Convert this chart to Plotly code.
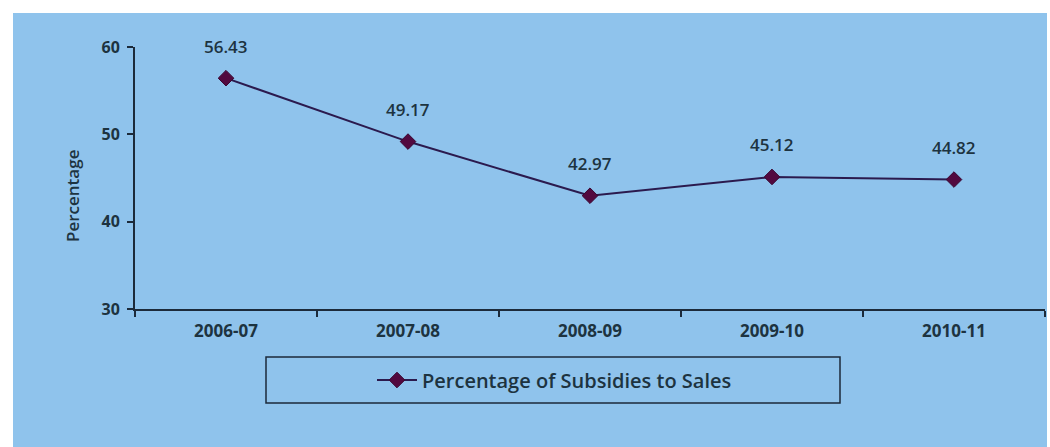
import plotly.graph_objects as go

years = ["2006-07", "2007-08", "2008-09", "2009-10", "2010-11"]
subsidy_pct = [56.43, 49.17, 42.97, 45.12, 44.82]
series_name = "Percentage of Subsidies to Sales"
y_title = "Percentage"
y_ticks = [30, 40, 50, 60]

W, H = 1050, 447
L, R, T, B = 135, 5, 47, 138
pw, ph = W - L - R, H - T - B

def px_x(p):
    return (p - L) / pw

def px_y(p):
    return (H - B - p) / ph

FONT = "Open Sans"
TXT = "#1d3340"
AXIS = "#1c2a3a"

fig = go.Figure()
fig.add_trace(go.Scatter(
    x=years, y=subsidy_pct, mode="lines+markers", name=series_name,
    line=dict(color="#2b1a4e", width=2),
    marker=dict(symbol="diamond", size=12, color="#52093f",
                line=dict(color="#3a0630", width=1)),
))

for xv, yv in zip(years, subsidy_pct):
    fig.add_annotation(x=xv, y=yv, text=f"{yv:.2f}", showarrow=False,
                       yshift=32,
                       font=dict(family=FONT, size=17, color=TXT, weight=600))

# y-axis title
fig.add_annotation(xref="paper", yref="paper", x=px_x(72), y=px_y(196),
                   text=y_title, textangle=-90, showarrow=False,
                   xanchor="center", yanchor="middle",
                   font=dict(family=FONT, size=17, color=TXT, weight=600))

# blue panel background
fig.add_shape(type="rect", xref="paper", yref="paper", layer="below",
              x0=px_x(13), x1=px_x(1047), y0=px_y(447), y1=px_y(13),
              fillcolor="#8fc3ec", line=dict(width=0))
# legend box
fig.add_shape(type="rect", xref="paper", yref="paper",
              x0=px_x(266), x1=px_x(840), y0=px_y(403), y1=px_y(357),
              fillcolor="rgba(0,0,0,0)", line=dict(color=AXIS, width=1.5))

fig.update_layout(
    width=W, height=H,
    margin=dict(l=L, r=R, t=T, b=B),
    paper_bgcolor="white", plot_bgcolor="rgba(0,0,0,0)",
    font=dict(family=FONT, color=TXT),
    showlegend=True,
    legend=dict(orientation="h", x=px_x(372), xanchor="left",
                y=px_y(380), yanchor="middle", bgcolor="rgba(0,0,0,0)",
                borderwidth=0,
                font=dict(family=FONT, size=20, color=TXT, weight=600),
                itemwidth=40),
)
fig.update_xaxes(type="category", range=[-0.5, 4.5], showgrid=False,
                 showline=True, linecolor=AXIS, linewidth=2,
                 ticks="outside", tickson="boundaries", ticklen=6,
                 tickcolor=AXIS, tickwidth=1.5, ticklabelstandoff=6,
                 tickfont=dict(family=FONT, size=17, color=TXT, weight="bold"))
fig.update_yaxes(range=[30, 60], tickvals=y_ticks, showgrid=False,
                 zeroline=False, showline=True, linecolor=AXIS, linewidth=2,
                 ticks="outside", ticklen=6, tickcolor=AXIS, tickwidth=1.5,
                 ticklabelstandoff=4,
                 tickfont=dict(family=FONT, size=16, color=TXT, weight="bold"))

fig.write_html("out.html", config={"displayModeBar": False},
               post_script="document.body.style.margin='0';")
